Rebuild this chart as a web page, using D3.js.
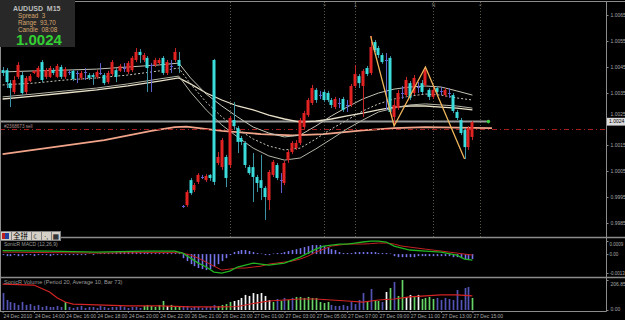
<!DOCTYPE html>
<html><head><meta charset="utf-8">
<script src="https://cdn.jsdelivr.net/npm/d3@7"></script>
<style>
html,body{margin:0;padding:0;background:#000;}
svg{display:block;font-family:"Liberation Sans",Arial,sans-serif;}
text{white-space:pre;}
</style>
</head><body>
<svg id="c" width="625" height="320"></svg>
<script>
// ---------- DATA (AUDUSD M15) ----------
const openP = [1.00438,1.00438,1.00388,1.00354,1.00412,1.00419,1.00354,1.00396,1.00427,1.00412,
1.00469,1.00412,1.00412,1.00438,1.00412,1.00450,1.00412,1.00431,1.00435,1.00427,
1.00408,1.00431,1.00419,1.00419,1.00412,1.00427,1.00419,1.00392,1.00423,1.00438,
1.00435,1.00446,1.00431,1.00438,1.00477,1.00508,1.00477,1.00485,1.00458,1.00458,
1.00465,1.00485,1.00427,1.00454,1.00477,1.00477,0.99915,0.99919,1.00015,0.99977,
1.00008,1.00027,1.00015,1.00035,1.00477,1.00081,1.00065,1.00104,1.00073,1.00246,
1.00215,1.00177,1.00158,1.00065,1.00065,1.00027,1.00015,0.99985,0.99938,1.00035,
1.00073,1.00015,1.00004,1.00092,1.00123,1.00138,1.00158,1.00219,1.00265,1.00312,
1.00362,1.00342,1.00354,1.00350,1.00323,1.00296,1.00312,1.00327,1.00304,1.00304,
1.00377,1.00415,1.00377,1.00446,1.00427,1.00546,1.00523,1.00496,1.00477,1.00485,
1.00258,1.00292,1.00350,1.00342,1.00388,1.00350,1.00373,1.00388,1.00381,1.00362,
1.00335,1.00369,1.00358,1.00342,1.00350,1.00342,1.00277,1.00246,1.00208,1.00142,1.00181];
const highP = [1.00450,1.00446,1.00400,1.00415,1.00469,1.00431,1.00415,1.00423,1.00438,1.00454,
1.00477,1.00446,1.00454,1.00446,1.00462,1.00458,1.00450,1.00438,1.00442,1.00435,
1.00435,1.00446,1.00427,1.00427,1.00438,1.00465,1.00427,1.00435,1.00477,1.00446,
1.00462,1.00465,1.00473,1.00492,1.00523,1.00519,1.00504,1.00492,1.00465,1.00485,
1.00485,1.00492,1.00477,1.00477,1.00523,1.00508,0.99919,0.99977,1.00023,1.00004,
1.00042,1.00035,1.00038,1.00038,1.00481,1.00123,1.00177,1.00112,1.00262,1.00315,
1.00223,1.00185,1.00165,1.00073,1.00119,1.00035,1.00112,0.99992,1.00054,1.00092,
1.00081,1.00042,1.00089,1.00131,1.00165,1.00169,1.00254,1.00281,1.00331,1.00381,
1.00369,1.00358,1.00362,1.00358,1.00331,1.00335,1.00331,1.00335,1.00323,1.00385,
1.00458,1.00423,1.00442,1.00454,1.00569,1.00554,1.00531,1.00504,1.00504,1.00492,
1.00323,1.00362,1.00377,1.00412,1.00396,1.00419,1.00392,1.00400,1.00450,1.00369,
1.00377,1.00377,1.00373,1.00369,1.00369,1.00350,1.00285,1.00254,1.00215,1.00223,1.00242];
const lowP = [1.00415,1.00369,1.00296,1.00346,1.00404,1.00342,1.00346,1.00392,1.00423,1.00408,
1.00392,1.00404,1.00408,1.00419,1.00408,1.00404,1.00404,1.00419,1.00396,1.00388,
1.00400,1.00400,1.00400,1.00381,1.00404,1.00419,1.00381,1.00385,1.00415,1.00392,
1.00431,1.00431,1.00423,1.00431,1.00469,1.00465,1.00469,1.00354,1.00354,1.00450,
1.00458,1.00419,1.00419,1.00427,1.00469,1.00427,0.99908,0.99912,0.99958,0.99969,
1.00000,1.00019,1.00008,1.00012,0.99996,1.00073,1.00054,0.99988,1.00062,1.00208,
1.00119,1.00150,1.00062,1.00035,0.99931,0.99969,0.99938,0.99862,0.99900,1.00027,
1.00015,0.99965,0.99996,1.00081,1.00115,1.00131,1.00150,1.00212,1.00258,1.00304,
1.00312,1.00327,1.00315,1.00315,1.00292,1.00288,1.00292,1.00277,1.00277,1.00296,
1.00369,1.00369,1.00258,1.00415,1.00419,1.00508,1.00485,1.00462,1.00285,1.00269,
1.00223,1.00285,1.00327,1.00335,1.00323,1.00342,1.00350,1.00346,1.00373,1.00323,
1.00327,1.00346,1.00342,1.00335,1.00331,1.00273,1.00246,1.00188,1.00096,1.00131,1.00169];
const closeP = [1.00427,1.00392,1.00369,1.00400,1.00458,1.00350,1.00408,1.00415,1.00435,1.00446,
1.00400,1.00438,1.00446,1.00427,1.00454,1.00412,1.00442,1.00431,1.00404,1.00427,
1.00427,1.00431,1.00408,1.00412,1.00431,1.00427,1.00388,1.00427,1.00469,1.00412,
1.00454,1.00446,1.00465,1.00485,1.00508,1.00496,1.00496,1.00446,1.00458,1.00477,
1.00477,1.00427,1.00469,1.00454,1.00508,1.00454,0.99915,0.99969,0.99965,0.99996,
1.00035,1.00027,1.00031,1.00023,1.00008,1.00104,1.00169,1.00023,1.00254,1.00223,
1.00162,1.00162,1.00073,1.00042,1.00027,1.00004,0.99985,0.99950,1.00046,1.00085,
1.00023,1.00015,1.00081,1.00123,1.00158,1.00158,1.00246,1.00273,1.00323,1.00369,
1.00323,1.00342,1.00323,1.00323,1.00304,1.00327,1.00312,1.00285,1.00304,1.00377,
1.00423,1.00388,1.00435,1.00423,1.00527,1.00515,1.00496,1.00469,1.00477,1.00277,
1.00304,1.00350,1.00350,1.00400,1.00331,1.00408,1.00373,1.00354,1.00438,1.00335,
1.00362,1.00354,1.00358,1.00362,1.00350,1.00281,1.00254,1.00196,1.00142,1.00215,1.00238];

// moving-average style lines, read at sample bars
const lineBars = [0,8,16,24,32,40,45,48,52,56,60,64,68,72,76,80,84,88,92,96,100,104,108,112,116,120];
const dragonHigh = [1.00431,1.00435,1.00438,1.00442,1.00450,1.00458,1.00465,1.00408,1.00346,1.00300,1.00258,1.00219,1.00196,1.00181,1.00188,1.00223,1.00262,1.00296,1.00327,1.00350,1.00365,1.00373,1.00377,1.00373,1.00358,1.00342];
const dragonMid  = [1.00381,1.00388,1.00400,1.00408,1.00419,1.00435,1.00446,1.00385,1.00315,1.00258,1.00212,1.00173,1.00146,1.00131,1.00138,1.00173,1.00212,1.00246,1.00281,1.00308,1.00327,1.00338,1.00346,1.00342,1.00331,1.00323];
const dragonLow  = [1.00335,1.00346,1.00358,1.00369,1.00385,1.00404,1.00415,1.00354,1.00285,1.00227,1.00181,1.00138,1.00108,1.00092,1.00100,1.00135,1.00173,1.00212,1.00246,1.00277,1.00292,1.00304,1.00308,1.00304,1.00300,1.00292];
const trendEMA   = [1.00327,1.00338,1.00350,1.00362,1.00377,1.00396,1.00408,1.00385,1.00350,1.00323,1.00300,1.00285,1.00265,1.00250,1.00238,1.00242,1.00250,1.00262,1.00273,1.00285,1.00296,1.00300,1.00300,1.00296,1.00292,1.00285];
const slowBars = [0,13,26,38,44,47,56,66,74,82,92,100,108,116,125];
const slowEMA  = [1.00115,1.00142,1.00169,1.00204,1.00219,1.00221,1.00204,1.00192,1.00187,1.00192,1.00206,1.00215,1.00219,1.00217,1.00215];
const zigBars  = [94,100,108,118];
const zigPrice = [1.00569,1.00223,1.00450,1.00096];

const bidPrice = 1.0024, bidLineEndBar = 123.7;
const orderPrice = 1.0021, orderLabel = "#2368673 sell";
const priceTicks = [0.9985,0.9995,1.0005,1.0015,1.0025,1.0035,1.0045,1.0055,1.0065];
const vLineBars = [58,82,90,110,122];
const vLineTags = ["",">","1","N","<"];

const timeBars = [0,8,16,24,32,40,48,56,64,72,80,88,96,104,112,120];
const timeLabels = ["24 Dec 2010","24 Dec 14:00","24 Dec 16:00","24 Dec 18:00","24 Dec 20:00","24 Dec 22:00",
"26 Dec 21:00","26 Dec 23:00","27 Dec 01:00","27 Dec 03:00","27 Dec 05:00","27 Dec 07:00",
"27 Dec 09:00","27 Dec 11:00","27 Dec 13:00","27 Dec 15:00"];

// MACD
const macdHist = [-0.00007,-0.00014,-0.00014,-0.00007,-0.00014,-0.00014,-0.00007,-0.00007,-0.00014,-0.00007,
-0.00007,-0.00007,-0.00014,-0.00007,-0.00007,-0.00007,-0.00007,-0.00007,-0.00007,-0.00007,
-0.00007,-0.00007,0,-0.00007,0,0.00007,0.00007,0.00007,0.00007,0.00014,
0.00014,0.00014,0.00021,0.00021,0.00014,0.00014,0.00014,0.00014,0.00007,0.00007,
0.00007,0.00007,0.00007,0.00007,0.00007,0.00007,-0.00028,-0.00048,-0.00069,-0.00083,
-0.00096,-0.00103,-0.00110,-0.00103,-0.00089,-0.00069,-0.00048,-0.00028,-0.00007,0.00014,
0.00021,0.00028,0.00028,0.00021,0.00014,0.00007,0,-0.00007,-0.00007,0,
0.00007,0.00007,0.00014,0.00021,0.00028,0.00034,0.00041,0.00048,0.00055,0.00062,
0.00062,0.00062,0.00055,0.00048,0.00034,0.00028,0.00014,0.00007,0.00007,0.00007,
0.00014,0.00014,0.00014,0.00014,0.00014,0.00014,0.00007,0.00007,0.00007,0,
-0.00014,-0.00021,-0.00021,-0.00021,-0.00021,-0.00021,-0.00014,-0.00014,-0.00014,-0.00014,
-0.00014,-0.00014,-0.00014,-0.00014,-0.00014,-0.00021,-0.00021,-0.00028,-0.00034,-0.00034,-0.00034];
const macdBars = [0,12,24,36,44,46,48,50,52,54,56,58,60,62,64,66,68,70,72,74,76,78,80,82,84,86,88,90,92,94,96,98,100,102,104,108,112,116,118,120];
const macdMain = [0.00024,0.00021,0.00014,0.00021,0.00021,0.00007,-0.00028,-0.00062,-0.00089,-0.00124,-0.00131,-0.00117,-0.00089,-0.00076,-0.00062,-0.00069,-0.00076,-0.00069,-0.00062,-0.00041,-0.00021,0.00007,0.00034,0.00055,0.00062,0.00069,0.00069,0.00076,0.00083,0.00089,0.00089,0.00083,0.00055,0.00041,0.00028,0.00021,0.00014,-0.00007,-0.00034,-0.00041];
const macdSignal = [0.00014,0.0001,0.00007,0.0001,0.0001,0.00007,-0.00007,-0.00028,-0.00055,-0.00083,-0.0011,-0.00103,-0.00096,-0.00096,-0.00089,-0.00083,-0.00069,-0.00062,-0.00055,-0.00048,-0.00034,-0.00014,0.00014,0.00034,0.00055,0.00062,0.00069,0.00069,0.00069,0.00072,0.00076,0.00076,0.00069,0.00055,0.00048,0.00034,0.00021,0.00007,0,-0.00007];
const macdTicks = [0.0009,0,-0.0013];
const macdTickLabels = ["0.0009","0.00","-0.0013"];

// Volume
const volume = [117,69,55,48,35,55,35,41,28,35,21,28,21,21,28,21,55,21,14,21,
28,14,21,21,14,28,21,14,21,21,28,21,14,21,21,14,28,35,28,21,
35,62,28,35,28,21,21,28,14,21,21,14,21,21,35,28,35,41,55,62,
69,83,104,97,117,110,117,97,69,55,76,62,83,69,83,90,90,83,90,83,
83,55,48,55,35,28,28,35,28,55,41,69,117,62,145,69,62,55,124,152,
193,97,206.85,90,104,97,104,76,83,90,76,83,69,83,76,69,138,69,152,159,83];
const volType = "nnnnnnnnnnnnnnnngnnnnnnnnnnnnnnnnnnnggggggwggg" +
"nnnnnnnnnggggwwwwwwwwwwgngngngggggggggnnnnnnnnngnggnwgnggw" +
"wgwggggnnnnnnnnngngggn";
const volAvgBars = [0,8,12,14,16,18,24,32,40,48,56,60,64,68,72,76,80,84,88,92,96,100,104,108,112,116,120];
const volAvg = [179,172,124,83,55,41,35,28,28,21,21,24,45,62,69,76,76,69,62,55,69,76,90,97,104,104,97];
const volTicks = [206.85,0];
const volTickLabels = ["206.85","0.00"];

// info panel
const symbolText = "AUDUSD  M15";
const infoRows = ["Spread  3","Range  93,70","Candle  08:08"];
const bidText = "1.0024";
const macdTitle = "SonicR MACD (12,26,9)";
const volTitle = "SonicR Volume (Period 20, Average 10, Bar 73)";

// ---------- DRAWING ----------
const svg = d3.select("#c");
const W = 625, H = 320, AX = 606.5;
const n = openP.length;
const x = d3.scaleLinear().domain([0,120]).range([2.6,472.4]);
const yP = d3.scaleLinear().domain([0.9985,1.0065]).range([223,15]);
const yM = d3.scaleLinear().domain([-0.0013,0.0009]).range([273,241]);
const yV = d3.scaleLinear().domain([0,206.85]).range([310,280]);
const px = i => Math.round(x(i)) + 0.5;

svg.append("rect").attr("width",W).attr("height",H).attr("fill","#000");
const defs = svg.append("defs");
defs.append("clipPath").attr("id","cm").append("rect").attr("x",0).attr("y",2).attr("width",606).attr("height",235);
defs.append("clipPath").attr("id","cd").append("rect").attr("x",0).attr("y",238).attr("width",606).attr("height",39);
defs.append("clipPath").attr("id","cv").append("rect").attr("x",0).attr("y",278).attr("width",606).attr("height",33);

const main = svg.append("g").attr("clip-path","url(#cm)");

// vertical dotted marker lines
main.selectAll("line.vl").data(vLineBars).join("line")
  .attr("x1",d=>px(d)).attr("x2",d=>px(d)).attr("y1",2).attr("y2",237)
  .attr("stroke","#5c5c46").attr("stroke-dasharray","1,2");
main.selectAll("text.vt").data(vLineBars).join("text")
  .attr("x",d=>px(d)).attr("y",7).attr("text-anchor","middle")
  .attr("font-size",5).attr("fill","#8a8a8a").text((d,i)=>vLineTags[i]);

// slow EMA (salmon)
const lineP = d3.line().x(d=>x(d[0])).y(d=>yP(d[1]));
main.append("path").attr("d",lineP(slowBars.map((b,i)=>[b,slowEMA[i]])))
  .attr("fill","none").attr("stroke","#f2a48a").attr("stroke-width",1.8);

// order line
main.append("line").attr("x1",0).attr("x2",606).attr("y1",Math.round(yP(orderPrice))+0.5).attr("y2",Math.round(yP(orderPrice))+0.5)
  .attr("stroke","#a42020").attr("stroke-dasharray","5,3,1,3");
main.append("text").attr("x",4).attr("y",yP(orderPrice)-1.5).attr("font-size",4.6).attr("fill","#b09090").text(orderLabel);

// bid horizontal line
main.append("line").attr("x1",0).attr("x2",x(bidLineEndBar)).attr("y1",yP(bidPrice)).attr("y2",yP(bidPrice))
  .attr("stroke","#9a9a9a").attr("stroke-width",2);
main.append("circle").attr("cx",x(bidLineEndBar)+1.5).attr("cy",yP(bidPrice)).attr("r",1.8).attr("fill","#3ccc3c");

// dragon + trend
const mk = arr => lineBars.map((b,i)=>[b,arr[i]]);
main.append("path").attr("d",lineP(mk(trendEMA))).attr("fill","none").attr("stroke","#e8e0c8").attr("stroke-width",1.3);
main.append("path").attr("d",lineP(mk(dragonLow))).attr("fill","none").attr("stroke","#b4b4a6").attr("stroke-width",1);
main.append("path").attr("d",lineP(mk(dragonHigh))).attr("fill","none").attr("stroke","#c4c4b6").attr("stroke-width",1);
main.append("path").attr("d",lineP(mk(dragonMid))).attr("fill","none").attr("stroke","#c8c8ba").attr("stroke-width",1).attr("stroke-dasharray","2,2");

// candles
const cg = main.append("g");
d3.range(n).forEach(i=>{
  const o=openP[i],h=highP[i],l=lowP[i],c=closeP[i];
  const cx = px(i);
  const doji = Math.abs(o-c) < 0.000005;
  const up = c > o;
  const wickCol = doji ? "#6060cc" : (up ? "#c42626" : "#3a94a4");
  cg.append("line").attr("x1",cx).attr("x2",cx).attr("y1",yP(h)).attr("y2",yP(l)).attr("stroke",wickCol).attr("stroke-width",1);
  if (doji) {
    cg.append("line").attr("x1",cx-1.5).attr("x2",cx+1.5).attr("y1",Math.round(yP(o))+0.5).attr("y2",Math.round(yP(o))+0.5).attr("stroke","#6060cc");
  } else {
    const top = yP(Math.max(o,c)), bot = yP(Math.min(o,c));
    cg.append("rect").attr("x",cx-2).attr("y",top).attr("width",3).attr("height",Math.max(1,bot-top))
      .attr("fill", up ? "#e32222" : "#3adcdc");
  }
});

// zigzag
main.append("path").attr("d",lineP(zigBars.map((b,i)=>[b,zigPrice[i]])))
  .attr("fill","none").attr("stroke","#f0b45a").attr("stroke-width",1.3);

// MACD panel
const mg = svg.append("g").attr("clip-path","url(#cd)");
mg.selectAll("line.h").data(macdHist).join("line")
  .attr("x1",(d,i)=>px(i)).attr("x2",(d,i)=>px(i))
  .attr("y1",yM(0)).attr("y2",d=>d===0?yM(0)-0.5:yM(d))
  .attr("stroke","#7676ec").attr("stroke-width",1.6);
const lineM = d3.line().x(d=>x(d[0])).y(d=>yM(d[1]));
mg.append("path").attr("d",lineM(macdBars.map((b,i)=>[b,macdSignal[i]]))).attr("fill","none").attr("stroke","#c42222").attr("stroke-width",1);
mg.append("path").attr("d",lineM(macdBars.map((b,i)=>[b,macdMain[i]]))).attr("fill","none").attr("stroke","#22b422").attr("stroke-width",1.3);
svg.append("text").attr("x",4).attr("y",246).attr("font-size",5).attr("fill","#9a9a9a").text(macdTitle);

// Volume panel
const vg = svg.append("g").attr("clip-path","url(#cv)");
const vcol = {n:"#5454b4", g:"#66d466", w:"#f4f4f4"};
vg.selectAll("line.v").data(volume).join("line")
  .attr("x1",(d,i)=>px(i)).attr("x2",(d,i)=>px(i))
  .attr("y1",yV(0)).attr("y2",d=>yV(d))
  .attr("stroke",(d,i)=>vcol[volType[i]]).attr("stroke-width",1.7);
const lineV = d3.line().x(d=>x(d[0])).y(d=>yV(d[1]));
vg.append("path").attr("d",lineV(volAvgBars.map((b,i)=>[b,volAvg[i]]))).attr("fill","none").attr("stroke","#d42424").attr("stroke-width",1.2);
svg.append("text").attr("x",4).attr("y",284).attr("font-size",5.6).attr("fill","#9a9a9a").text(volTitle);

// frames
const fr = svg.append("g").attr("stroke","#8c8c8c").attr("fill","none");
fr.append("line").attr("x1",0).attr("x2",W).attr("y1",1.5).attr("y2",1.5);
fr.append("line").attr("x1",AX).attr("x2",AX).attr("y1",1).attr("y2",311.5);
fr.append("line").attr("x1",0).attr("x2",W).attr("y1",237.5).attr("y2",237.5).attr("stroke-width",1.5);
fr.append("line").attr("x1",0).attr("x2",W).attr("y1",277.5).attr("y2",277.5).attr("stroke-width",1.5);
fr.append("line").attr("x1",0).attr("x2",AX).attr("y1",311.5).attr("y2",311.5);
fr.append("line").attr("x1",0.5).attr("x2",0.5).attr("y1",1).attr("y2",311.5);

// axes
function styleAxis(g){
  g.select(".domain").remove();
  g.selectAll("line").attr("stroke","#8c8c8c");
  g.selectAll("text").attr("fill","#a8a8a8").attr("font-size",5).attr("font-family","Liberation Sans, Arial, sans-serif");
}
svg.append("g").attr("transform",`translate(${AX},0)`)
  .call(d3.axisRight(yP).tickValues(priceTicks).tickFormat(d3.format(".4f")).tickSize(2).tickPadding(2))
  .call(styleAxis)
  .call(g=>g.selectAll(".tick").filter(d=>Math.abs(d-1.0025)<1e-6).select("text").attr("dy","-0.75em"));
svg.append("g").attr("transform",`translate(${AX},0)`)
  .call(d3.axisRight(yM).tickValues(macdTicks).tickFormat((d,i)=>macdTickLabels[i]).tickSize(2).tickPadding(1))
  .call(styleAxis)
  .call(g=>g.selectAll("text").attr("font-size",4.5))
  .call(g=>g.selectAll(".tick").filter(d=>d===0.0009).select("text").attr("dy","1em"));
svg.append("g").attr("transform",`translate(${AX},0)`)
  .call(d3.axisRight(yV).tickValues(volTicks).tickFormat((d,i)=>volTickLabels[i]).tickSize(2).tickPadding(2))
  .call(styleAxis)
  .call(g=>g.selectAll(".tick").filter(d=>d>0).select("text").attr("dy","1em"))
  .call(g=>g.selectAll(".tick").filter(d=>d===0).select("text").attr("dy","0"));
svg.append("g").attr("transform","translate(0,311)")
  .call(d3.axisBottom(x).tickValues(timeBars).tickFormat((d,i)=>timeLabels[i]).tickSize(2).tickPadding(1))
  .call(styleAxis)
  .call(g=>g.selectAll("text").attr("text-anchor","start").attr("x",0.5));

// current price box on the axis
const by = yP(bidPrice);
svg.append("rect").attr("x",AX+0.5).attr("y",by-3.8).attr("width",18).attr("height",7.8).attr("fill","#dcdcdc");
svg.append("text").attr("x",AX+2.5).attr("y",by+1.8).attr("font-size",5).attr("fill","#000").text(bidText);

// info box
const ib = svg.append("g");
ib.append("rect").attr("x",0).attr("y",0).attr("width",75).attr("height",47).attr("fill","#282828");
ib.append("text").attr("x",13).attr("y",10.5).attr("font-size",7).attr("font-weight","bold").attr("fill","#bdbdbd").text(symbolText);
ib.selectAll("text.r").data(infoRows).join("text").attr("x",18).attr("y",(d,i)=>17.5+i*7)
  .attr("font-size",6.3).attr("fill","#d6a56c").text(d=>d);
ib.append("text").attr("x",16).attr("y",45).attr("font-size",15).attr("font-weight","bold").attr("fill","#33d033").text(bidText);

// IME toolbar overlay
const tb = svg.append("g");
tb.append("rect").attr("x",0.5).attr("y",231.5).attr("width",60).attr("height",9).attr("fill","#d4d0c8").attr("stroke","#808080");
[11,31,41,51].forEach(v=>tb.append("line").attr("x1",v+0.5).attr("x2",v+0.5).attr("y1",232).attr("y2",240).attr("stroke","#808080"));
tb.append("rect").attr("x",2).attr("y",233).attr("width",3).attr("height",6).attr("fill","#c02020");
tb.append("rect").attr("x",5).attr("y",233).attr("width",4).attr("height",6).attr("fill","#2040a0");
tb.append("text").attr("x",13).attr("y",239.3).attr("font-size",7.5).attr("font-family","Noto Sans CJK SC").attr("fill","#000").text("全拼");
tb.append("text").attr("x",33).attr("y",239.3).attr("font-size",7).attr("font-family","DejaVu Sans").attr("fill","#000").text("☾");
tb.append("text").attr("x",44).attr("y",238.5).attr("font-size",7).attr("fill","#000").text("·,");
tb.append("text").attr("x",52.5).attr("y",239.3).attr("font-size",7).attr("font-family","DejaVu Sans").attr("fill","#000").text("▦");
</script>
</body></html>
